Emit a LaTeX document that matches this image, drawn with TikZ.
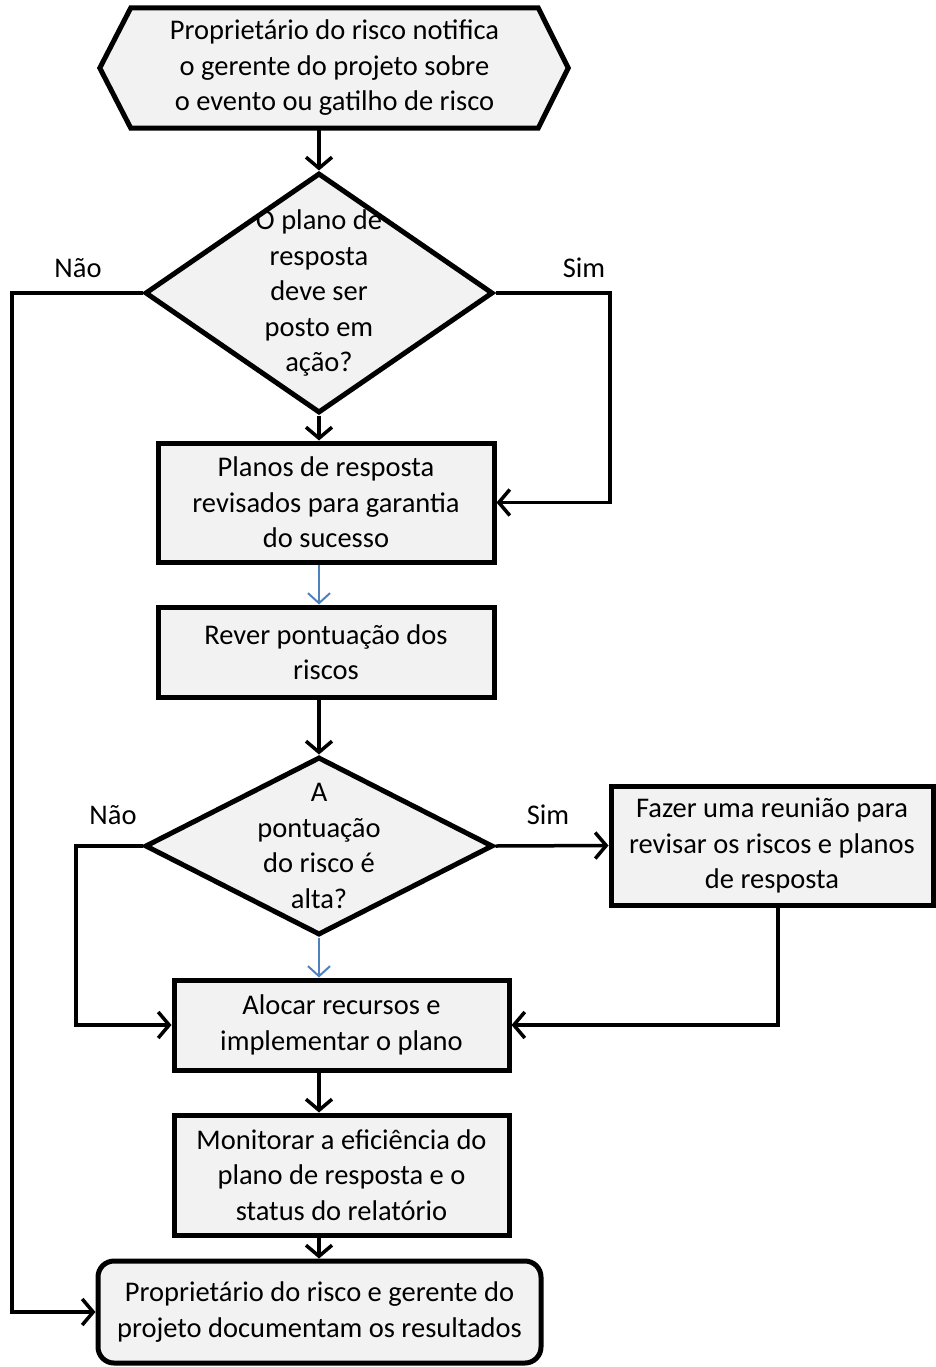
\documentclass[tikz,border=0pt]{standalone}
\usepackage{fontspec}
\setmainfont{Carlito}
\usetikzlibrary{positioning,calc,arrows.meta,shapes.geometric,backgrounds}
\definecolor{boxgray}{HTML}{F2F2F2}
\definecolor{flowblue}{HTML}{4F81BD}

\begin{document}
\begin{tikzpicture}[x=1pt,y=-1pt,
  font=\fontsize{28.5}{35.5}\selectfont,
  proc/.style={draw=black,line width=5pt,fill=boxgray,align=center,inner sep=0pt,
               minimum width=336pt,minimum height=90pt},
  decision/.style={diamond,draw=black,line width=5pt,fill=boxgray,inner sep=0pt,
                   minimum width=348pt},
  qtext/.style={align=center,inner sep=0pt},
  arr/.style={-{Straight Barb[length=11pt,width=26pt]},line width=3.5pt},
  barr/.style={-{Straight Barb[length=10pt,width=22pt]},line width=2pt,draw=flowblue}]
  \useasboundingbox (0,0) rectangle (936,1367);
  \node[align=center,inner sep=0pt,minimum width=407pt,minimum height=120pt] (notify) at (334.5,68)
    {Proprietário do risco notifica\\o gerente do projeto sobre\\o evento ou gatilho de risco};
  \begin{scope}[on background layer]
    \filldraw[draw=black,fill=boxgray,line width=5pt,line join=miter]
      (notify.north west) -- (notify.north east) -- ([xshift=30pt]notify.east)
      -- (notify.south east) -- (notify.south west) -- ([xshift=-31pt]notify.west) -- cycle;
  \end{scope}
  \node[decision,minimum height=240pt,label={[qtext]center:{O plano de\\resposta\\deve ser\\posto em\\ação?}}] (act) at (319,293) {};
  \node[proc,minimum height=119pt] (plan) at (326,502.5) {Planos de resposta\\revisados para garantia\\do sucesso};
  \node[proc] (score) at (326,652) {Rever pontuação dos\\riscos};
  \node[decision,minimum height=178pt,label={[qtext]center:{A\\pontuação\\do risco é\\alta?}}] (high) at (319,846) {};
  \node[proc,minimum width=322pt,minimum height=119pt] (meet) at (772,845.5) {Fazer uma reunião para\\revisar os riscos e planos\\de resposta};
  \node[proc,minimum width=335pt] (alloc) at (341.5,1025) {Alocar recursos e\\implementar o plano};
  \node[proc,minimum width=335pt,minimum height=120pt] (watch) at (341.5,1175) {Monitorar a eficiência do\\plano de resposta e o\\status do relatório};
  \node[proc,minimum width=443pt,minimum height=102pt,rounded corners=16pt] (doc) at (319.5,1312) {Proprietário do risco e gerente do\\projeto documentam os resultados};
  % labels
  \node (noA) at (78,268) {Não};
  \node (yesA) at (584,268) {Sim};
  \node (noB) at (113,815) {Não};
  \node (yesB) at (548,815) {Sim};
  % bends
  \coordinate (yesAc) at (610,293);
  \coordinate (noAc) at (12,293);
  \coordinate (noBc) at (76,846);
  \coordinate (meetc) at (778,905);
  % connectors
  \draw[arr] (act.north |- notify.south) -- (act.north);
  \draw[arr] (act.south) -- (act.south |- plan.north);
  \draw[arr] (act.east) -- (yesAc) |- (plan.east);
  \draw[arr] (act.west) -- (noAc) |- (doc.west);
  \draw[barr] (act.south |- plan.south) -- (act.south |- score.north);
  \draw[arr] (high.north |- score.south) -- (high.north);
  \draw[arr] (high.east) -- (meet.west);
  \draw[arr] (high.west) -- (noBc) |- (alloc.west);
  \draw[arr] (meetc) |- (alloc.east);
  \draw[barr] (high.south) -- (high.south |- alloc.north);
  \draw[arr] (high.south |- alloc.south) -- (high.south |- watch.north);
  \draw[arr] (high.south |- watch.south) -- (high.south |- doc.north);
\end{tikzpicture}
\end{document}
